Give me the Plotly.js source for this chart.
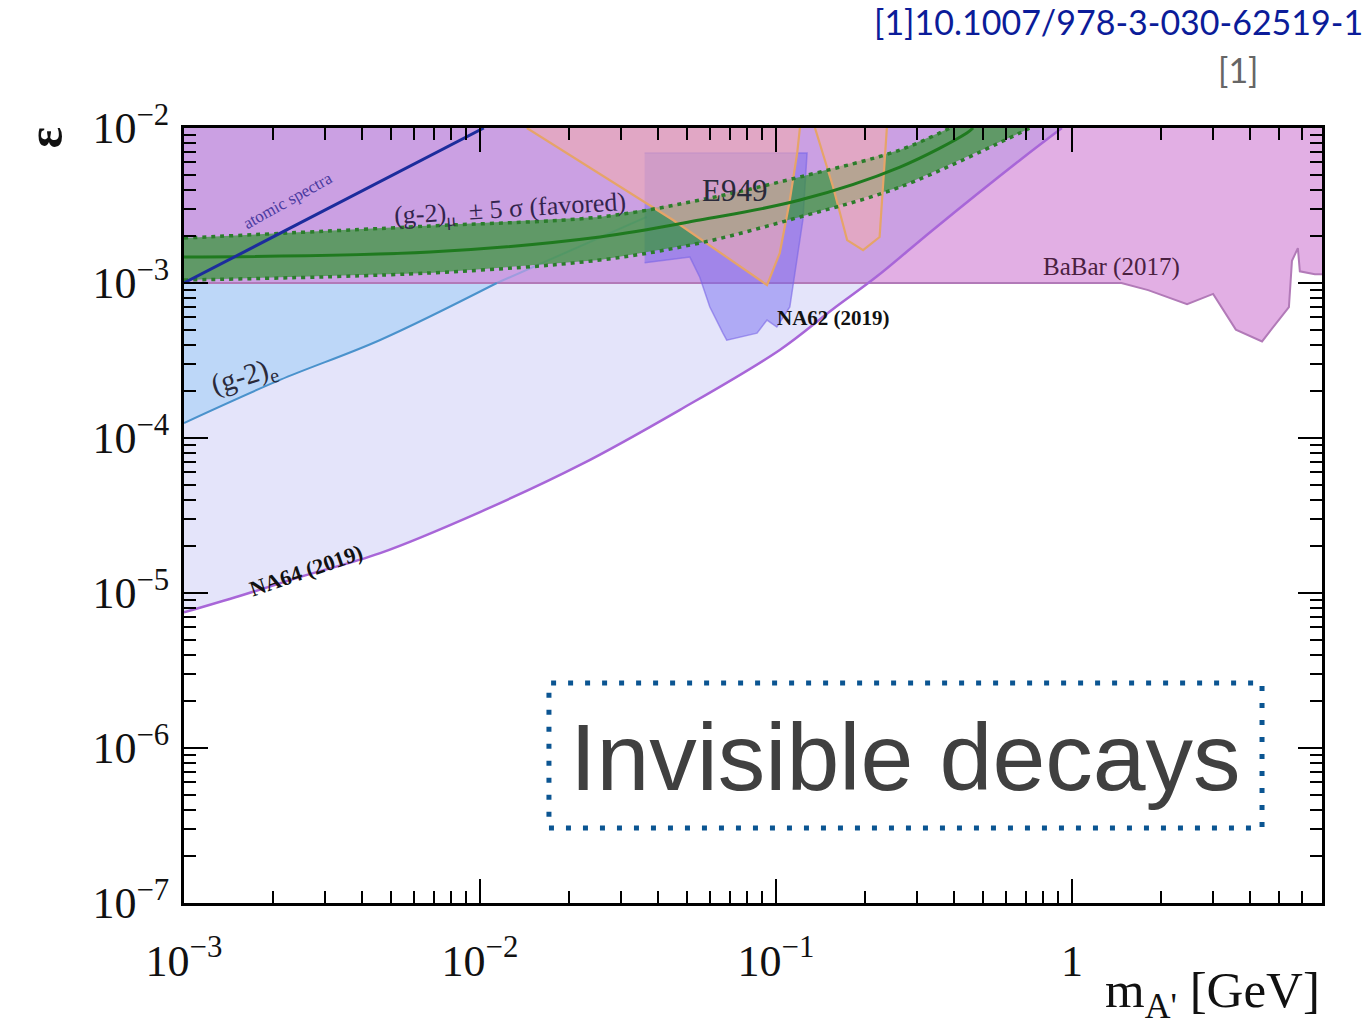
<!DOCTYPE html>
<html>
<head>
<meta charset="utf-8">
<script src="https://cdn.plot.ly/plotly-3.0.1.min.js"></script>
<style>
html,body{margin:0;padding:0;background:#fff;}
#chart{width:1367px;height:1029px;}
</style>
</head>
<body>
<div id="chart"></div>
<script>
// ---------------- data (m_A' in GeV, epsilon) ----------------
const xTickVals = [0.001, 0.01, 0.1, 1];
const xTickText = ['10<sup>−3</sup>', '10<sup>−2</sup>', '10<sup>−1</sup>', '1'];
const yTickVals = [1e-7, 1e-6, 1e-5, 1e-4, 1e-3, 1e-2];
const yTickText = ['10<sup>−7</sup>', '10<sup>−6</sup>', '10<sup>−5</sup>', '10<sup>−4</sup>', '10<sup>−3</sup>', '10<sup>−2</sup>'];

const epsTop = 1e-2;

// BaBar (2017) lower boundary
const babar_m   = [0.001, 1.47, 1.81, 2.45, 3.0, 3.58, 4.39, 5.41, 5.54, 5.80, 5.89, 6.62, 7.0];
const babar_eps = [1.0e-3, 1.0e-3, 9.0e-4, 7.3e-4, 8.5e-4, 5.0e-4, 4.2e-4, 7.0e-4, 1.39e-3, 1.68e-3, 1.19e-3, 1.14e-3, 1.14e-3];

// (g-2)_e
const gm2e_m   = [0.001, 0.00211, 0.0046, 0.0114];
const gm2e_eps = [1.25e-4, 2.37e-4, 4.29e-4, 1.0e-3];
const gm2eExt_m   = [0.0114, 0.0366];
const gm2eExt_eps = [1.0e-3, 2.67e-3];

// NA64 (2019)
const na64_m   = [0.001, 0.00155, 0.00247, 0.0046, 0.01, 0.0218, 0.0474, 0.103, 0.156, 0.219, 0.339, 0.667, 0.925];
const na64_eps = [7.5e-6, 9.6e-6, 1.27e-5, 1.81e-5, 3.33e-5, 6.7e-5, 1.52e-4, 3.7e-4, 6.8e-4, 1.1e-3, 2.2e-3, 6.2e-3, 1.0e-2];

// NA62 (2019)
const na62_m   = [0.0360, 0.1274, 0.1233, 0.114, 0.1114, 0.1007, 0.0933, 0.0863, 0.0755, 0.0682, 0.0662, 0.0598, 0.0553, 0.0512, 0.0360];
const na62_eps = [6.9e-3, 6.9e-3, 2.55e-3, 9.4e-4, 7.0e-4, 5.2e-4, 5.77e-4, 4.75e-4, 4.49e-4, 4.28e-4, 4.75e-4, 7.0e-4, 1.09e-3, 1.47e-3, 1.35e-3];

// E949 (two lobes)
const e949a_m   = [0.0144, 0.0449, 0.0933, 0.103, 0.111, 0.118, 0.1205];
const e949a_eps = [1.0e-2, 2.55e-3, 9.7e-4, 1.56e-3, 3.28e-3, 6.9e-3, 1.0e-2];
const e949b_m   = [0.1355, 0.156, 0.174, 0.197, 0.224, 0.230, 0.237];
const e949b_eps = [1.0e-2, 4.16e-3, 1.89e-3, 1.63e-3, 1.98e-3, 4.16e-3, 1.0e-2];

// (g-2)_mu +- 5 sigma band
const gm2mu_m        = [0.001, 0.00678, 0.0254, 0.0553, 0.1205, 0.2624, 0.4416, 0.4634];
const gm2mu_eps      = [1.472e-3, 1.585e-3, 1.982e-3, 2.547e-3, 3.428e-3, 5.6e-3, 9.29e-3, 1.0e-2];
const gm2muUp_m      = [0.001, 0.00678, 0.0254, 0.0553, 0.1205, 0.2624, 0.387];
const gm2muUp_eps    = [1.95e-3, 2.333e-3, 2.667e-3, 3.428e-3, 4.83e-3, 7.21e-3, 1.0e-2];
const gm2muLo_m      = [0.001, 0.00678, 0.0254, 0.0553, 0.1205, 0.2624, 0.6668, 0.721];
const gm2muLo_eps    = [1.045e-3, 1.161e-3, 1.406e-3, 1.811e-3, 2.667e-3, 4.16e-3, 9.29e-3, 1.0e-2];

// atomic spectra
const atomic_m   = [0.001, 0.0103];
const atomic_eps = [1.0e-3, 1.0e-2];

// ---------------- traces ----------------
const last = a => a[a.length - 1];
const rev = a => a.slice().reverse();

const traces = [];

// BaBar region (opaque pink)
traces.push({
  x: babar_m.concat([last(babar_m), babar_m[0]]),
  y: babar_eps.concat([epsTop, epsTop]),
  type: 'scatter', mode: 'lines', fill: 'toself',
  fillcolor: '#e2afe4', line: {width: 0}, hoverinfo: 'skip'
});
// (g-2)e region
traces.push({
  x: gm2e_m.concat([gm2e_m[0]]),
  y: gm2e_eps.concat([last(gm2e_eps)]),
  type: 'scatter', mode: 'lines', fill: 'toself',
  fillcolor: '#d2f0fd', line: {width: 0}, hoverinfo: 'skip'
});
// NA64 region (translucent overlay)
traces.push({
  x: na64_m.concat([na64_m[0]]),
  y: na64_eps.concat([epsTop]),
  type: 'scatter', mode: 'lines', fill: 'toself',
  fillcolor: 'rgba(75,75,222,0.15)', line: {width: 0}, hoverinfo: 'skip'
});
// BaBar boundary line
traces.push({
  x: babar_m, y: babar_eps, type: 'scatter', mode: 'lines',
  line: {color: '#b27ab8', width: 2}, hoverinfo: 'skip'
});
// (g-2)e lines
traces.push({
  x: gm2e_m, y: gm2e_eps, type: 'scatter', mode: 'lines',
  line: {color: '#4a92cc', width: 2, shape: 'spline'}, hoverinfo: 'skip'
});
traces.push({
  x: gm2eExt_m, y: gm2eExt_eps, type: 'scatter', mode: 'lines',
  line: {color: 'rgba(90,150,215,0.4)', width: 2}, hoverinfo: 'skip'
});
// NA62 region
traces.push({
  x: na62_m, y: na62_eps, type: 'scatter', mode: 'lines', fill: 'toself',
  fillcolor: 'rgba(110,100,240,0.45)', line: {color: 'rgba(120,100,230,0.6)', width: 1.5}, hoverinfo: 'skip'
});
// (g-2)mu band fill
traces.push({
  x: gm2muUp_m.concat(rev(gm2muLo_m)),
  y: gm2muUp_eps.concat(rev(gm2muLo_eps)),
  type: 'scatter', mode: 'lines', fill: 'toself',
  fillcolor: 'rgba(50,150,50,0.7)', line: {width: 0}, hoverinfo: 'skip'
});
// E949 region
traces.push({
  x: e949a_m.concat([null], e949b_m),
  y: e949a_eps.concat([null], e949b_eps),
  type: 'scatter', mode: 'lines', fill: 'toself',
  fillcolor: 'rgba(240,172,176,0.6)', line: {color: '#e6a468', width: 2.2}, hoverinfo: 'skip'
});
// (g-2)mu band edges and centre
traces.push({
  x: gm2muUp_m, y: gm2muUp_eps, type: 'scatter', mode: 'lines',
  line: {color: '#2b7d2b', width: 3.5, dash: '4px,5px', shape: 'spline'}, hoverinfo: 'skip'
});
traces.push({
  x: gm2muLo_m, y: gm2muLo_eps, type: 'scatter', mode: 'lines',
  line: {color: '#2b7d2b', width: 3.5, dash: '4px,5px', shape: 'spline'}, hoverinfo: 'skip'
});
traces.push({
  x: gm2mu_m, y: gm2mu_eps, type: 'scatter', mode: 'lines',
  line: {color: '#1f7a1f', width: 3, shape: 'spline'}, hoverinfo: 'skip'
});
// NA64 line
traces.push({
  x: na64_m, y: na64_eps, type: 'scatter', mode: 'lines',
  line: {color: '#a866d8', width: 2.5, shape: 'spline'}, hoverinfo: 'skip'
});
// atomic spectra line
traces.push({
  x: atomic_m, y: atomic_eps, type: 'scatter', mode: 'lines',
  line: {color: '#1c2c9c', width: 3}, hoverinfo: 'skip'
});

// ---------------- layout ----------------
const serif = 'Liberation Serif, DejaVu Serif, serif';
function lab(text, x, y, size, color, angle, bold) {
  return {
    text: bold ? '<b>' + text + '</b>' : text,
    xref: 'x', yref: 'y', x: x, y: y, showarrow: false,
    textangle: angle || 0,
    font: {family: serif, size: size, color: color}
  };
}

const layout = {
  width: 1367, height: 1029,
  margin: {l: 184, r: 45, t: 128, b: 126},
  paper_bgcolor: '#ffffff', plot_bgcolor: '#ffffff',
  showlegend: false,
  xaxis: {
    type: 'log', range: [-3, 0.845],
    showline: true, linecolor: '#000', linewidth: 3, mirror: 'ticks',
    ticks: 'inside', ticklen: 24, tickwidth: 2, tickcolor: '#000',
    tickmode: 'array', tickvals: xTickVals, ticktext: xTickText,
    tickfont: {family: serif, size: 44, color: '#111'},
    ticklabelstandoff: 17,
    showgrid: false, zeroline: false,
    minor: {ticks: 'inside', ticklen: 12, tickwidth: 2, tickcolor: '#000', dtick: 'D1', showgrid: false}
  },
  yaxis: {
    type: 'log', range: [-7, -2],
    showline: true, linecolor: '#000', linewidth: 3, mirror: 'ticks',
    ticks: 'inside', ticklen: 24, tickwidth: 2, tickcolor: '#000',
    tickmode: 'array', tickvals: yTickVals, ticktext: yTickText,
    tickfont: {family: serif, size: 44, color: '#111'},
    ticklabelstandoff: 3,
    showgrid: false, zeroline: false,
    minor: {ticks: 'inside', ticklen: 12, tickwidth: 2, tickcolor: '#000', dtick: 'D1', showgrid: false}
  },
  shapes: [{
    type: 'rect', xref: 'paper', yref: 'paper',
    x0: 0.3207, x1: 0.9473, y0: 0.0968, y1: 0.2839,
    line: {color: '#0b5592', width: 5, dash: '5px,12px'},
    fillcolor: 'rgba(0,0,0,0)'
  }],
  annotations: [
    lab('(g-2)<sub>μ</sub>  ± 5 σ (favored)', -1.899, -2.529, 26, '#33244d', -3.5, false),
    lab('atomic spectra', -2.649, -2.465, 17, '#4a3aa0', -29, false),
    lab('E949', -1.139, -2.40, 31, '#2a2a3a', 0, false),
    lab('BaBar (2017)', 0.135, -2.897, 25, '#4a2040', 0, false),
    lab('NA62 (2019)', -0.807, -3.226, 21, '#111111', 0, true),
    lab('(g-2)<sub>e</sub>', -2.794, -3.606, 29, '#2a2a3a', -17, false),
    lab('NA64 (2019)', -2.588, -4.852, 22, '#111111', -19, true),
    {
      text: 'Invisible decays', xref: 'paper', yref: 'paper',
      x: 0.634, y: 0.188, xanchor: 'center', yanchor: 'middle', showarrow: false,
      font: {family: 'Liberation Sans, Arial, sans-serif', size: 95, color: '#404040'}
    },
    {
      text: '<b>ε</b>', xref: 'paper', yref: 'paper', x: -0.122, y: 0.987,
      xanchor: 'center', yanchor: 'middle', showarrow: false, textangle: -90,
      font: {family: serif, size: 50, color: '#111'}
    },
    {
      text: "m<sub>A'</sub> [GeV]", xref: 'paper', yref: 'paper', x: 1.0, y: -0.117,
      xanchor: 'right', yanchor: 'middle', showarrow: false,
      font: {family: serif, size: 51, color: '#111'}
    },
    {
      text: '[1]10.1007/978-3-030-62519-1', xref: 'paper', yref: 'paper', x: 1.038, y: 1.137,
      xanchor: 'right', yanchor: 'middle', showarrow: false,
      font: {family: 'Lato, Open Sans, sans-serif', size: 34, color: '#0b1c99'}
    },
    {
      text: '[1]', xref: 'paper', yref: 'paper', x: 0.927, y: 1.075,
      xanchor: 'center', yanchor: 'middle', showarrow: false,
      font: {family: 'Lato, Open Sans, sans-serif', size: 34, color: '#666666'}
    }
  ]
};

Plotly.newPlot('chart', traces, layout, {displayModeBar: false, staticPlot: true});
</script>
</body>
</html>
